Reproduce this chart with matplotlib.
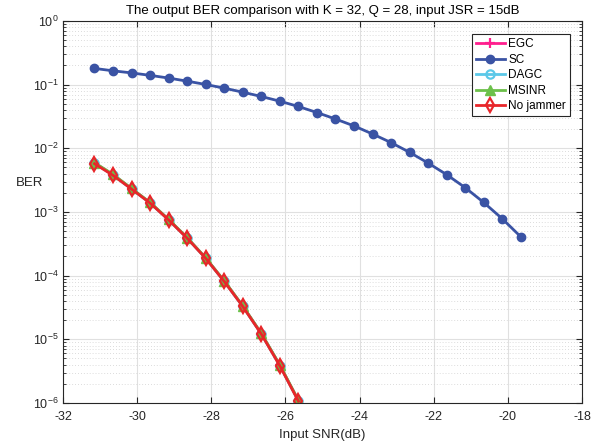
import numpy as np
import matplotlib
matplotlib.use("Agg")
import matplotlib.pyplot as plt
from matplotlib.ticker import LogLocator, FixedLocator, NullFormatter

plt.rcParams['font.family'] = ['Liberation Sans', 'DejaVu Sans']
plt.rcParams['mathtext.fontset'] = 'custom'
plt.rcParams['mathtext.rm'] = 'Liberation Sans'
plt.rcParams['mathtext.it'] = 'Liberation Sans:italic'
plt.rcParams['axes.unicode_minus'] = False

# ---- data ----
snr_sc = [-31.15 + 0.5 * k for k in range(24)]
ber_sc = [0.180, 0.165, 0.153, 0.140, 0.127, 0.1135, 0.1007, 0.0881, 0.0762,
          0.0652, 0.0550, 0.0454, 0.0365, 0.0289, 0.0225, 0.0168, 0.0123,
          8.65e-3, 5.87e-3, 3.86e-3, 2.41e-3, 1.41e-3, 7.82e-4, 4.07e-4]

snr_low = [-31.15 + 0.5 * k for k in range(12)]
ber_egc = [5.9e-3, 3.85e-3, 2.32e-3, 1.40e-3, 7.6e-4, 3.92e-4, 1.89e-4,
           8.2e-5, 3.32e-5, 1.23e-5, 3.9e-6, 1.09e-6]
ber_dagc = [5.85e-3, 3.8e-3, 2.30e-3, 1.39e-3, 7.55e-4, 3.9e-4, 1.88e-4,
            8.15e-5, 3.3e-5, 1.22e-5, 3.88e-6, 1.08e-6]
ber_msinr = [5.95e-3, 3.9e-3, 2.34e-3, 1.41e-3, 7.65e-4, 3.95e-4, 1.9e-4,
             8.3e-5, 3.35e-5, 1.24e-5, 3.95e-6, 1.1e-6]
ber_nojam = [5.74e-3, 3.76e-3, 2.29e-3, 1.38e-3, 7.5e-4, 3.87e-4, 1.87e-4,
             8.1e-5, 3.28e-5, 1.21e-5, 3.83e-6, 1.07e-6]

xticks = [-32, -30, -28, -26, -24, -22, -20, -18]
yticks = [1e0, 1e-1, 1e-2, 1e-3, 1e-4, 1e-5, 1e-6]
ytick_labels = [r'$10^{0}$', r'$10^{-1}$', r'$10^{-2}$', r'$10^{-3}$',
                r'$10^{-4}$', r'$10^{-5}$', r'$10^{-6}$']

fig = plt.figure(figsize=(6.01, 4.43), dpi=100)
ax = fig.add_axes([0.1048, 0.0903, 0.8636, 0.8623])

lw = 2.0
ax.semilogy(snr_low, ber_egc, color='#FF1F8E', marker='+', ms=7, mew=1.6, lw=lw, label='EGC')
ax.semilogy(snr_sc, ber_sc, color='#3A53A4', marker='o', ms=6, lw=lw, label='SC')
ax.semilogy(snr_low, ber_dagc, color='#5BC8E8', marker='o', ms=6, mfc='none', mew=1.6, lw=lw, label='DAGC')
ax.semilogy(snr_low, ber_msinr, color='#6CC04A', marker='^', ms=7, lw=lw, label='MSINR')
ax.semilogy(snr_low, ber_nojam, color='#E8262A', marker='d', ms=7, mfc='none', mew=1.6, lw=lw, label='No jammer')

ax.set_xlim(-32, -18)
ax.set_ylim(1e-6, 1e0)
ax.xaxis.set_major_locator(FixedLocator(xticks))
ax.set_yticks(yticks)
ax.set_yticklabels(ytick_labels)
ax.yaxis.set_minor_locator(LogLocator(base=10, subs=np.arange(2, 10), numticks=20))
ax.yaxis.set_minor_formatter(NullFormatter())

ax.grid(True, which='major', color='#E0E0E0', lw=0.8, ls='-')
ax.grid(True, which='minor', axis='y', color='#D0D0D0', lw=0.6, ls=(0, (1, 2.5)))
ax.set_axisbelow(True)

ax.tick_params(which='both', direction='in', top=True, right=True, labelsize=9, colors='#262626')
ax.tick_params(axis='x', which='major', pad=6)
ax.tick_params(axis='y', which='major', pad=3)
ax.tick_params(which='major', length=4)
ax.tick_params(which='minor', length=2)
for s in ax.spines.values():
    s.set_color('#262626')
    s.set_linewidth(0.8)

ax.set_xlabel('Input SNR(dB)', fontsize=9.5, color='#262626', labelpad=4)
ax.set_ylabel('BER', fontsize=9.5, color='#262626', rotation=0)
ax.yaxis.set_label_coords(-0.065, 0.56)
ax.set_title('The output BER comparison with K = 32, Q = 28, input JSR = 15dB',
             fontsize=9.5, color='black', pad=5)

leg = ax.legend(loc='upper right', bbox_to_anchor=(0.977, 0.966), fontsize=8.5,
                fancybox=False, edgecolor='#262626', framealpha=1,
                handlelength=2.4, borderpad=0.35, labelspacing=0.3, handletextpad=0.3,
                borderaxespad=0)
leg.get_frame().set_linewidth(0.8)

fig.savefig('out.png', dpi=100)
